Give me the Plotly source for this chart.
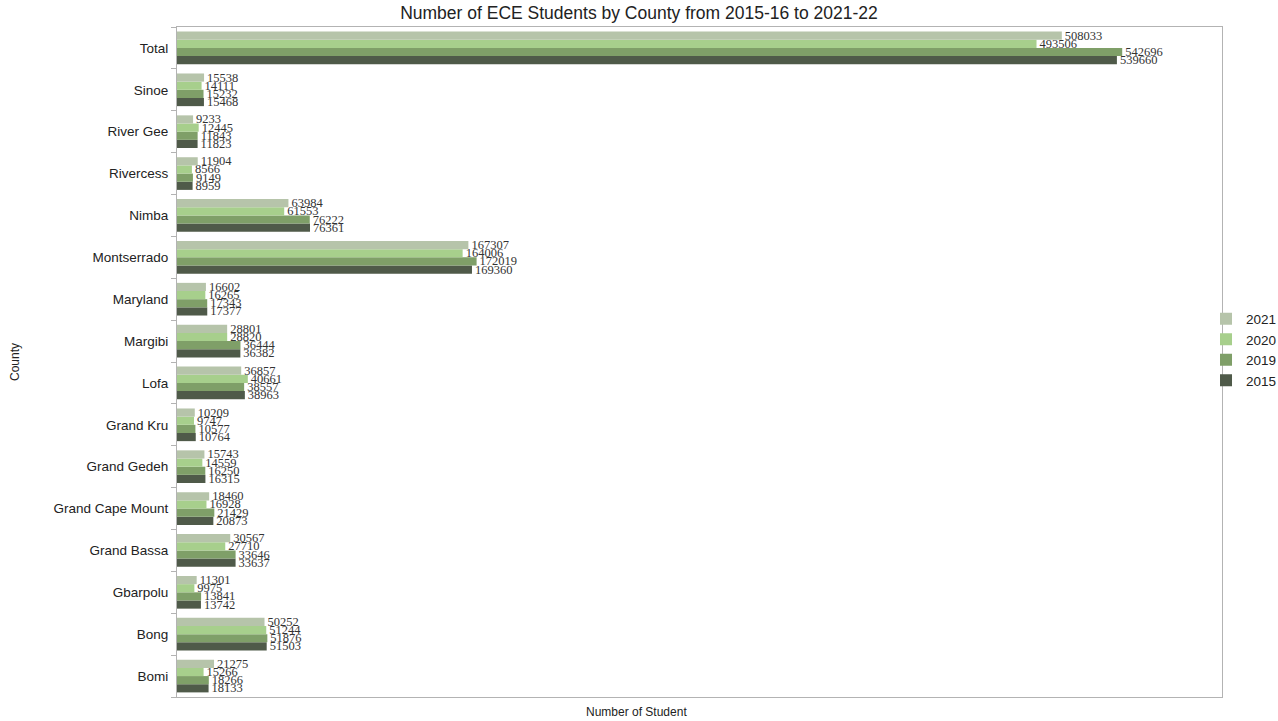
import plotly.graph_objects as go

# counties, bottom to top as drawn
counties = ['Bomi', 'Bong', 'Gbarpolu', 'Grand Bassa', 'Grand Cape Mount', 'Grand Gedeh',
            'Grand Kru', 'Lofa', 'Margibi', 'Maryland', 'Montserrado', 'Nimba',
            'Rivercess', 'River Gee', 'Sinoe', 'Total']

y2015 = [18133, 51503, 13742, 33637, 20873, 16315, 10764, 38963, 36382, 17377,
         169360, 76361, 8959, 11823, 15468, 539660]
y2019 = [18266, 51876, 13841, 33646, 21429, 16250, 10577, 38557, 36444, 17343,
         172019, 76222, 9149, 11843, 15232, 542696]
y2020 = [15266, 51244, 9975, 27710, 16928, 14559, 9747, 40661, 28820, 16265,
         164006, 61553, 8566, 12445, 14111, 493506]
y2021 = [21275, 50252, 11301, 30567, 18460, 15743, 10209, 36857, 28801, 16602,
         167307, 63984, 11904, 9233, 15538, 508033]

series = [('2015', y2015, '#4f5a49'), ('2019', y2019, '#7f9f68'),
          ('2020', y2020, '#a7cf8c'), ('2021', y2021, '#b6c4aa')]

fig = go.Figure()
for name, vals, col in series:
    fig.add_trace(go.Bar(
        y=counties, x=vals, name=name, orientation='h',
        marker=dict(color=col, line=dict(width=0)),
        text=vals, textposition='outside', constraintext='none', cliponaxis=False,
        textfont=dict(family='Liberation Serif', size=12.5, color='#333333'),
    ))

fig.update_layout(
    width=1278, height=721,
    barmode='group', bargap=0.22, bargroupgap=0,
    plot_bgcolor='white', paper_bgcolor='white',
    margin=dict(l=177, r=56, t=27, b=24, autoexpand=False),
    title=dict(text='Number of ECE Students by County from 2015-16 to 2021-22',
               x=0.5, xanchor='center', xref='container', y=0.99, yanchor='top',
               yref='container',
               font=dict(family='Liberation Sans', size=17.5, color='#222222')),
    font=dict(family='Liberation Sans', color='#222222'),
    legend=dict(x=0.9847, y=0.518, xanchor='left', yanchor='middle',
                bgcolor='rgba(0,0,0,0)',
                traceorder='reversed', font=dict(size=13.5),
                itemwidth=30, tracegroupgap=0),
    xaxis=dict(range=[0, 600000], showticklabels=False, showgrid=False, zeroline=False,
               showline=True, linecolor='#b3b3b3', linewidth=1, mirror=True, ticks='',
               automargin=False),
    yaxis=dict(showgrid=False, zeroline=False, showline=True, linecolor='#b3b3b3',
               linewidth=1, mirror=True, ticks='outside', ticklen=5, tickcolor='#b3b3b3',
               tickson='boundaries', tickfont=dict(size=13.5, color='#222222'),
               ticklabelstandoff=5, automargin=False,
               title=dict(text='County', font=dict(size=12), standoff=31)),
)

# x title sits off-centre (under the whole page rather than the plot)
fig.add_annotation(text='Number of Student', xref='paper', yref='paper',
                   x=0.44, y=-0.022, xanchor='center', yanchor='middle',
                   showarrow=False, font=dict(size=12))

# page body has a default 8px margin; drop it so the chart sits at 0,0
fig.write_html('out.html', config={'displayModeBar': False},
               post_script="document.body.style.margin='0';")
